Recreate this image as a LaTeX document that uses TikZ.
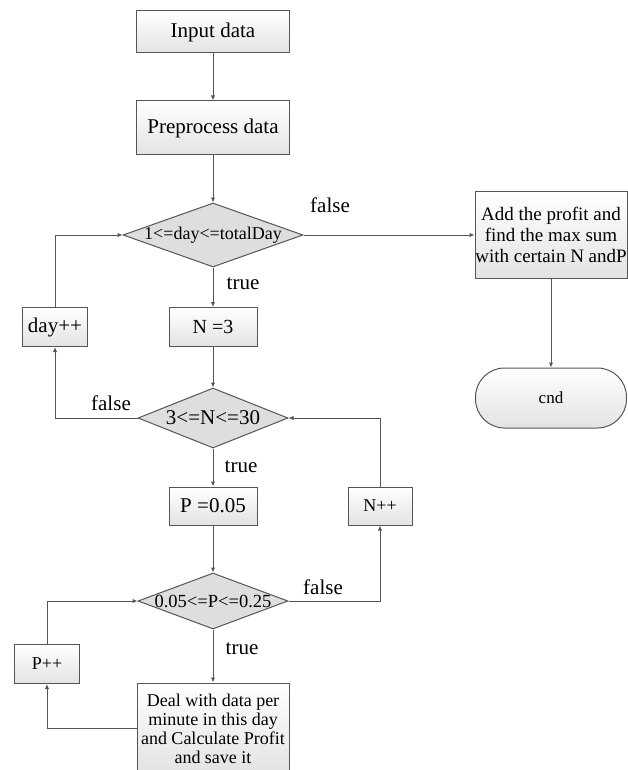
\documentclass[tikz,border=0pt]{standalone}
\usepackage{fontspec}
\setmainfont{Liberation Serif}
\usetikzlibrary{shapes.geometric,arrows.meta}
\definecolor{edge}{HTML}{555555}
\definecolor{dfill}{HTML}{DEDEDE}
\tikzset{
  box/.style={draw=edge, line width=1pt, top color=white, bottom color=gray!22, align=center, inner sep=0pt, font=\fontsize{21}{23}\selectfont},
  dec/.style={draw=edge, line width=1pt, fill=dfill, shape=diamond, inner sep=0pt},
  dtext/.style={font=\fontsize{18}{20}\selectfont, inner sep=0pt},
  lbl/.style={font=\fontsize{21}{23}\selectfont, inner sep=0pt},
  arr/.style={draw=edge, line width=1pt, -{Latex[length=5pt,width=4.5pt]}},
  x=1pt, y=-1pt
}
\begin{document}
\begin{tikzpicture}
\useasboundingbox (0,0) rectangle (628,770);
\node[box, minimum width=153pt, minimum height=42pt] (in) at (213,32) {Input data};
\node[box, minimum width=153pt, minimum height=54pt] (pre) at (213,128) {Preprocess data};
\node[dec, minimum width=180pt, minimum height=64pt] (d1) at (213,235) {};
\node[dtext] (d1t) at (213,235) {1<=day<=totalDay};
\node[box, minimum width=152pt, minimum height=87pt, font=\fontsize{19}{21}\selectfont] (add) at (551,235) {Add the profit and\\ find the max sum\\ with certain N andP};
\node[box, minimum width=151pt, minimum height=60pt, rounded corners=29pt, font=\fontsize{17}{19}\selectfont] (end) at (551,398) {cnd};
\node[box, minimum width=65pt, minimum height=39pt] (day) at (55,327) {day++};
\node[box, minimum width=88pt, minimum height=39pt, font=\fontsize{20}{22}\selectfont] (n3) at (213,327) {N =3};
\node[dec, minimum width=150pt, minimum height=60pt] (d2) at (213,418) {};
\node[dtext, font=\fontsize{21}{23}\selectfont] (d2t) at (213,418) {3<=N<=30};
\node[box, minimum width=88pt, minimum height=38pt] (p05) at (213,506) {P =0.05};
\node[box, minimum width=64pt, minimum height=38pt, font=\fontsize{18}{20}\selectfont] (npp) at (380,506) {N++};
\node[dec, minimum width=150pt, minimum height=56pt] (d3) at (213,601) {};
\node[dtext, font=\fontsize{18.5}{20}\selectfont] (d3t) at (213,601) {0.05<=P<=0.25};
\node[box, minimum width=65pt, minimum height=39pt, font=\fontsize{18}{20}\selectfont] (ppp) at (47,664) {P++};
\node[box, minimum width=152pt, minimum height=91pt, font=\fontsize{18}{19}\selectfont] (deal) at (213,728.5) {Deal with data per\\ minute in this day\\ and Calculate Profit\\ and save it};
% labels
\node[lbl] (f1) at (330,205) {false};
\node[lbl] (t1) at (243,284) {true};
\node[lbl] (f2) at (111,403) {false};
\node[lbl] (t2) at (241,467) {true};
\node[lbl] (f3) at (323,587) {false};
\node[lbl] (t3) at (242,649) {true};
% connectors
\draw[arr] (in.south) -- (pre.north);
\draw[arr] (pre.south) -- (d1.north);
\draw[arr] (d1.east) -- (add.west);
\draw[arr] (add.south) -- (end.north);
\draw[arr] (d1.south) -- (n3.north);
\draw[arr] (n3.south) -- (d2.north);
\draw[arr] (d2.west) -| (day.south);
\draw[arr] (day.north) |- (d1.west);
\draw[arr] (d2.south) -- (p05.north);
\draw[arr] (p05.south) -- (d3.north);
\draw[arr] (d3.east) -| (npp.south);
\draw[arr] (npp.north) |- (d2.east);
\draw[arr] (d3.south) -- (deal.north);
\draw[arr] (deal.west) -| (ppp.south);
\draw[arr] (ppp.north) |- (d3.west);
\end{tikzpicture}
\end{document}
